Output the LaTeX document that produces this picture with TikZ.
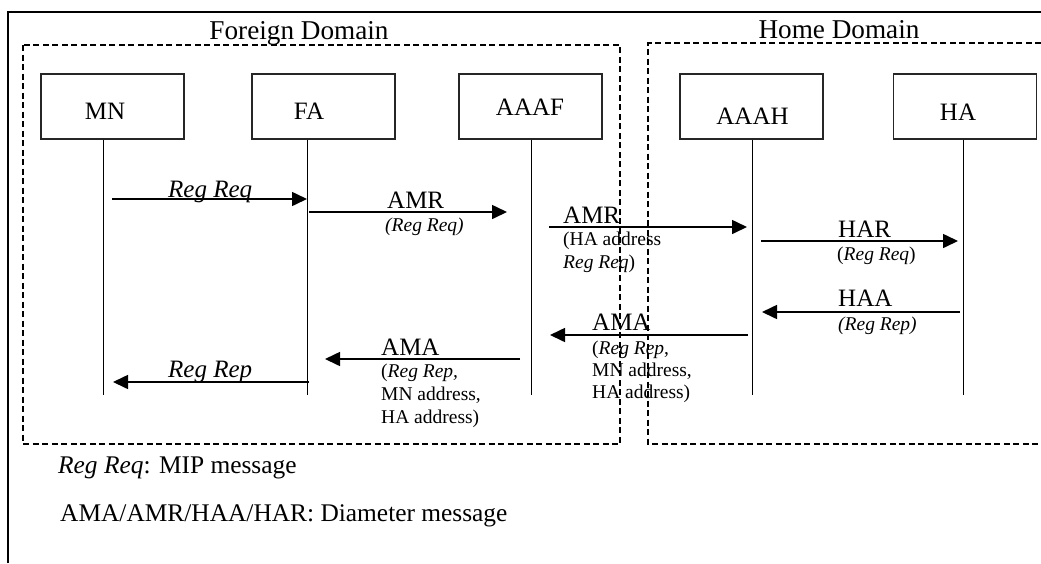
\documentclass[tikz,border=0pt]{standalone}
\usepackage{fontspec}
\setmainfont{Liberation Serif}
\usetikzlibrary{arrows.meta}
\begin{document}
\begin{tikzpicture}[x=1pt,y=-1pt,
  big/.style={font=\fontsize{25}{30}\selectfont, inner sep=0pt},
  domlabel/.style={font=\fontsize{27.2}{32}\selectfont, inner sep=0pt},
  foot/.style={font=\fontsize{25.4}{30}\selectfont, inner sep=0pt},
  small/.style={font=\fontsize{19.5}{23}\selectfont, inner sep=0pt},
  entity/.style={draw=black!85, line width=1.5pt, minimum width=143pt, minimum height=65pt, inner sep=0pt},
  life/.style={line width=1pt},
  msg/.style={line width=1.6pt, -{Triangle[length=15pt,width=14pt]}},
  domainbox/.style={line width=1.6pt, dash pattern=on 6pt off 3.5pt},
  outerframe/.style={line width=2.2pt}]
\useasboundingbox (0,0) rectangle (1041,563);
\fill[white] (0,0) rectangle (1041,563);

% outer frame
\coordinate (fr1) at (8,563);
\coordinate (fr2) at (8,12);
\coordinate (fr3) at (1041,12);
\draw[outerframe] (fr1) -- (fr2) -- (fr3);

% domains
\coordinate (fd1) at (23,45);
\coordinate (fd2) at (620,444);
\draw[domainbox] (fd1) rectangle (fd2);
\coordinate (hd1) at (1041,43);
\coordinate (hd2) at (648,43);
\coordinate (hd3) at (648,444);
\coordinate (hd4) at (1041,444);
\draw[domainbox] (hd1) -- (hd2) -- (hd3) -- (hd4);
\node[domlabel, anchor=base] (fdl) at (299,39) {Foreign Domain};
\node[domlabel, anchor=base] (hdl) at (839,38) {Home Domain};

% entities
\node[entity] (MN) at (112.5,106.5) {};
\node[entity] (FA) at (323.5,106.5) {};
\node[entity] (AAAF) at (530.5,106.5) {};
\node[entity] (AAAH) at (751.5,106.5) {};
\node[entity] (HA) at (965,106.5) {};
\node[big, anchor=base] (MNt) at (105,119) {MN};
\node[big, anchor=base] (FAt) at (309,119) {FA};
\node[big, anchor=base] (AAAFt) at (530,115) {AAAF};
\node[big, anchor=base] (AAAHt) at (752.5,124) {AAAH};
\node[big, anchor=base] (HAt) at (958,120) {HA};

% lifelines
\coordinate (MNe) at (103,395);
\coordinate (FAe) at (307,395);
\coordinate (AAAFe) at (531,395);
\coordinate (AAAHe) at (752,395);
\coordinate (HAe) at (963,395);
\draw[life] (MN.south -| MNe) -- (MNe);
\draw[life] (FA.south -| FAe) -- (FAe);
\draw[life] (AAAF.south -| AAAFe) -- (AAAFe);
\draw[life] (AAAH.south -| AAAHe) -- (AAAHe);
\draw[life] (HA.south -| HAe) -- (HAe);

% messages
\coordinate (m1s) at (112,199);  \coordinate (m1e) at (307,199);
\coordinate (m2s) at (309,212);  \coordinate (m2e) at (507,212);
\coordinate (m3s) at (549,227);  \coordinate (m3e) at (747,227);
\coordinate (m4s) at (761,241);  \coordinate (m4e) at (958,241);
\coordinate (m5s) at (960,312);  \coordinate (m5e) at (762,312);
\coordinate (m6s) at (748,335);  \coordinate (m6e) at (550,335);
\coordinate (m7s) at (520,359);  \coordinate (m7e) at (325,359);
\coordinate (m8s) at (309,382);  \coordinate (m8e) at (113,382);
\draw[msg] (m1s) -- (m1e);
\draw[msg] (m2s) -- (m2e);
\draw[msg] (m3s) -- (m3e);
\draw[msg] (m4s) -- (m4e);
\draw[msg] (m5s) -- (m5e);
\draw[msg] (m6s) -- (m6e);
\draw[msg] (m7s) -- (m7e);
\draw[msg] (m8s) -- (m8e);

% labels
\node[big, anchor=base west] (l1) at (168,197) {\itshape Reg Req};

\node[big, anchor=base west] (l2) at (387,208) {AMR};
\node[small, anchor=base west] (l2a) at (385,231.5) {\itshape (Reg Req)};

\node[big, anchor=base west] (l3) at (563,223) {AMR};
\node[small, anchor=base west] (l3a) at (563,245.5) {(HA address};
\node[small, anchor=base west] (l3b) at (563,268) {\textit{Reg Req})};

\node[big, anchor=base west] (l4) at (838,237) {HAR};
\node[small, anchor=base west] (l4a) at (837,260) {(\textit{Reg Req})};

\node[big, anchor=base west] (l5) at (838,306.5) {HAA};
\node[small, anchor=base west] (l5a) at (838,330) {\itshape (Reg Rep)};

\node[big, anchor=base west] (l6) at (592,330) {AMA};
\node[small, anchor=base west] (l6a) at (592,354) {(\textit{Reg Rep},};
\node[small, anchor=base west] (l6b) at (592,376.5) {MN address,};
\node[small, anchor=base west] (l6c) at (592,398.5) {HA address)};

\node[big, anchor=base west] (l7) at (381,355) {AMA};
\node[small, anchor=base west] (l7a) at (381,377) {(\textit{Reg Rep,}};
\node[small, anchor=base west] (l7b) at (381,400) {MN address,};
\node[small, anchor=base west] (l7c) at (381,423) {HA address)};

\node[big, anchor=base west] (l8) at (168,377) {\itshape Reg Rep};

% footer
\node[foot, anchor=base west] (f1) at (58,473) {\textit{Reg Req}: MIP message};
\node[foot, anchor=base west] (f2) at (60,521.5) {AMA/AMR/HAA/HAR: Diameter message};
\end{tikzpicture}
\end{document}
